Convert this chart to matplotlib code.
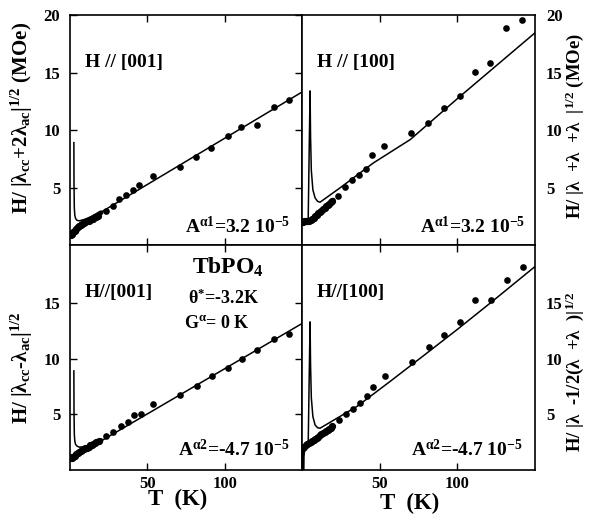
import numpy as np
import matplotlib
matplotlib.use("Agg")
import matplotlib.pyplot as plt

plt.rcParams['font.family'] = ['Liberation Serif', 'DejaVu Serif']
plt.rcParams['font.weight'] = 'bold'
plt.rcParams['mathtext.fontset'] = 'custom'
plt.rcParams['mathtext.rm'] = 'Liberation Serif:bold'
plt.rcParams['mathtext.it'] = 'Liberation Serif:italic:bold'
plt.rcParams['mathtext.bf'] = 'Liberation Serif:bold'


#********************************************** data ******************************************************************#
# H // [001], upper panel (lambda_cc + 2 lambda_ac)
tl_dense_T = [0.5, 1, 1.5, 2, 3, 4, 5, 6, 7, 8, 9, 10, 11, 12, 13, 14, 15, 16, 17, 18]
tl_dense_v = [0.9, 0.95, 1.0, 1.1, 1.25, 1.4, 1.55, 1.65, 1.75, 1.85, 1.9, 2.0, 2.05, 2.1, 2.2, 2.25, 2.3, 2.4, 2.45, 2.55]
tl_T = [23.2, 27.5, 31.8, 36.2, 40.5, 44.8, 53.5, 70.8, 81.6, 91.4, 102.2, 110.8, 121, 131.8, 141.8]
tl_v = [3.0, 3.43, 4.04, 4.39, 4.82, 5.2, 5.98, 6.8, 7.64, 8.45, 9.46, 10.25, 10.4, 11.98, 12.57]
tl_fit_T = [2.5, 2.6, 2.8, 3.1, 3.6, 4.5, 6, 10, 20, 150]
tl_fit_v = [8.9, 5.2, 3.2, 2.6, 2.3, 2.15, 2.1, 2.25, 2.85, 13.3]
tl_low_T = [0.3, 1, 2, 3, 4, 6, 8, 12, 20]
tl_low_v = [0.85, 0.95, 1.1, 1.3, 1.45, 1.7, 1.85, 2.15, 2.8]

# H // [100], upper panel
tr_dense_T = [0.8, 1.5, 2.5, 3.5, 4.5, 5.5, 6.5, 7.5, 8.5, 9.5, 10.5, 11.5, 12.5, 13.5, 14.5, 15.5, 16.5, 17.5, 18.5, 19.5]
tr_dense_v = [2.0, 2.05, 2.05, 2.1, 2.1, 2.15, 2.25, 2.35, 2.5, 2.6, 2.75, 2.85, 3.0, 3.1, 3.2, 3.35, 3.45, 3.6, 3.7, 3.85]
tr_T = [23.4, 27.7, 32, 37, 41.3, 44.9, 53.1, 70.3, 80.9, 91.2, 101.9, 111.2, 121.3, 131.6, 141.7]
tr_v = [4.25, 5.03, 5.61, 6.07, 6.62, 7.81, 8.59, 9.7, 10.62, 11.93, 12.94, 15.03, 15.84, 18.83, 19.55]
tr_fit_T = [4.0, 4.6, 5.2, 5.5, 6.0, 7.0, 8.4, 10, 11.6, 24.5, 46, 69.7, 99.8, 150]
tr_fit_v = [2.3, 8.0, 13.4, 9.5, 6.5, 4.8, 4.1, 3.8, 3.72, 4.97, 7.14, 9.17, 12.7, 18.45]
tr_low_T = [0.2, 0.5, 3, 6, 10, 15, 20]
tr_low_v = [1.9, 2.0, 2.05, 2.2, 2.7, 3.3, 3.9]

# H // [001], lower panel (lambda_cc - lambda_ac)
bl_dense_T = [0.5, 1, 1.5, 2, 3, 4, 5, 6, 7, 8, 9, 10, 11, 12, 13, 14, 15, 16, 17, 18.8]
bl_dense_v = [1.05, 1.1, 1.15, 1.2, 1.3, 1.4, 1.5, 1.6, 1.7, 1.8, 1.85, 1.95, 2.0, 2.1, 2.2, 2.25, 2.35, 2.45, 2.5, 2.64]
bl_T = [23.2, 27.9, 32.9, 37.2, 41.6, 45.9, 53.9, 71.2, 82, 92, 102.2, 111.5, 121, 131.8, 141.8]
bl_v = [3.06, 3.45, 3.96, 4.29, 4.9, 5.05, 5.95, 6.76, 7.57, 8.47, 9.16, 9.97, 10.75, 11.77, 12.22]
bl_fit_T = [2.5, 2.6, 2.8, 3.1, 3.6, 4.5, 6, 10, 20, 150]
bl_fit_v = [8.9, 5.2, 3.2, 2.6, 2.3, 2.15, 2.05, 2.1, 2.6, 13.15]
bl_low_T = [0.3, 1, 2, 4, 6, 9, 13, 20]
bl_low_v = [1.0, 1.1, 1.2, 1.4, 1.6, 1.85, 2.15, 2.65]

# H // [100], lower panel
br_dense_T = [0.5, 1.5, 2.5, 3.5, 4.5, 5.5, 6.5, 7.5, 8.5, 9.5, 10.5, 11.5, 12.5, 13.5, 14.5, 15.5, 16.5, 17.5, 18.5, 19.5]
br_dense_v = [2.0, 2.1, 2.2, 2.3, 2.4, 2.5, 2.6, 2.7, 2.8, 2.9, 3.0, 3.1, 3.2, 3.3, 3.4, 3.5, 3.6, 3.7, 3.8, 3.95]
br_T = [24.1, 28.4, 32.7, 37.4, 41.7, 46, 53.5, 70.8, 81.5, 91.6, 101.9, 111.6, 121.7, 132, 142.1]
br_v = [4.5, 5.0, 5.46, 6.0, 6.6, 7.42, 8.41, 9.67, 11.05, 12.16, 13.27, 15.25, 15.3, 17.1, 18.2]
br_fit_T = [4.0, 4.6, 5.2, 5.5, 6.0, 7.0, 8.4, 10, 11.6, 35.3, 56.8, 78.3, 99.8, 121.3, 150.3]
br_fit_v = [2.4, 8.0, 13.3, 9.5, 6.5, 4.8, 4.05, 3.8, 3.75, 5.7, 7.96, 10.27, 12.6, 15.0, 18.3]
br_low_T = [0.1, 0.2, 0.5, 1, 3, 6, 10, 15, 20]
br_low_v = [0.0, 1.2, 1.7, 1.95, 2.2, 2.5, 2.9, 3.4, 3.95]

x_ticks = [50, 100]


#********************************************** layout ****************************************************************#
W, H = 590, 514


def px(x, y):
    return x / W, 1 - y / H


def box(x0, y0, x1, y1):
    return [x0 / W, 1 - y1 / H, (x1 - x0) / W, (y1 - y0) / H]


fig = plt.figure(figsize=(5.9, 5.14), dpi=100)
ax_tl = fig.add_axes(box(70, 15, 302, 245))
ax_tr = fig.add_axes(box(302, 15, 535, 245))
ax_bl = fig.add_axes(box(70, 245, 302, 470))
ax_br = fig.add_axes(box(302, 245, 535, 470))

panels = [
    (ax_tl, tl_dense_T, tl_dense_v, tl_T, tl_v, tl_fit_T, tl_fit_v, tl_low_T, tl_low_v),
    (ax_tr, tr_dense_T, tr_dense_v, tr_T, tr_v, tr_fit_T, tr_fit_v, tr_low_T, tr_low_v),
    (ax_bl, bl_dense_T, bl_dense_v, bl_T, bl_v, bl_fit_T, bl_fit_v, bl_low_T, bl_low_v),
    (ax_br, br_dense_T, br_dense_v, br_T, br_v, br_fit_T, br_fit_v, br_low_T, br_low_v),
]

for ax, dT, dv, sT, sv, fT, fv, lT, lv in panels:
    ax.plot(lT, lv, color="black", lw=3.5, solid_capstyle="round")
    ax.plot(fT, fv, color="black", lw=1.1)
    ax.plot(dT, dv, "o", color="black", ms=5.2, mew=0)
    ax.plot(sT, sv, "o", color="black", ms=4.8, mew=0)
    ax.set_xlim(0, 150)
    ax.set_xticks(x_ticks)
    for s in ax.spines.values():
        s.set_linewidth(1.2)
    ax.tick_params(direction="in", length=5, width=1, top=True, bottom=True,
                   labelsize=12, colors="black")

ax_tl.set_ylim(0, 20)
ax_tr.set_ylim(0, 20)
ax_bl.set_ylim(0, 20.2)
ax_br.set_ylim(0, 20.2)
ax_tl.set_yticks([5, 10, 15, 20])
ax_tr.set_yticks([5, 10, 15, 20])
ax_bl.set_yticks([5, 10, 15])
ax_br.set_yticks([5, 10, 15])

for ax in (ax_tl, ax_tr):
    ax.tick_params(labelbottom=False)
for ax in (ax_bl, ax_br):
    ax.tick_params(axis="x", pad=4)
for ax in (ax_tl, ax_bl):
    ax.tick_params(axis="y", left=True, right=True, pad=7)
for ax in (ax_tr, ax_br):
    ax.tick_params(axis="y", left=False, right=False, labelleft=False, labelright=True, pad=8)

# panel texts
tsize = 14
fig.text(*px(85, 63), "H // [001]", fontsize=tsize, va="center")
fig.text(*px(317, 63), "H // [100]", fontsize=tsize, va="center")
fig.text(*px(85, 293), "H//[001]", fontsize=tsize, va="center")
fig.text(*px(317, 292), "H//[100]", fontsize=tsize, va="center")

fig.text(*px(290, 233), r"A$^{\mathrm{\alpha 1}}$=3.2 10$^{\mathrm{-5}}$", fontsize=tsize, ha="right", va="baseline")
fig.text(*px(525, 233), r"A$^{\mathrm{\alpha 1}}$=3.2 10$^{\mathrm{-5}}$", fontsize=tsize, ha="right", va="baseline")
fig.text(*px(290, 456), r"A$^{\mathrm{\alpha 2}}$=-4.7 10$^{\mathrm{-5}}$", fontsize=tsize, ha="right", va="baseline")
fig.text(*px(523, 456), r"A$^{\mathrm{\alpha 2}}$=-4.7 10$^{\mathrm{-5}}$", fontsize=tsize, ha="right", va="baseline")

fig.text(*px(228, 267), r"TbPO$_{\mathrm{4}}$", fontsize=17, ha="center", va="center")
fig.text(*px(223, 298), r"$\mathrm{\theta}^{\mathrm{*}}$=-3.2K", fontsize=13, ha="center", va="center")
fig.text(*px(217, 323), r"G$^{\mathrm{\alpha}}$= 0 K", fontsize=13, ha="center", va="center")

# axis labels
fig.text(*px(178, 499), "T  (K)", fontsize=16.5, ha="center", va="center")
fig.text(*px(410, 503), "T  (K)", fontsize=16.5, ha="center", va="center")

fig.text(*px(22, 118), r"H/ |λ$_{\mathrm{cc}}$+2λ$_{\mathrm{ac}}$|$^{\mathrm{1/2}}$ (MOe)",
         fontsize=15, rotation=90, ha="center", va="center")
fig.text(*px(22, 368), r"H/ |λ$_{\mathrm{cc}}$-λ$_{\mathrm{ac}}$|$^{\mathrm{1/2}}$",
         fontsize=15, rotation=90, ha="center", va="center")
fig.text(*px(575, 126), r"H/ |λ  +λ  +λ  |$^{\mathrm{1/2}}$ (MOe)",
         fontsize=13.5, rotation=90, ha="center", va="center")
fig.text(*px(575, 372), r"H/ |λ  -1/2(λ  +λ  )|$^{\mathrm{1/2}}$",
         fontsize=13.5, rotation=90, ha="center", va="center")

fig.savefig("out.png", dpi=100)
